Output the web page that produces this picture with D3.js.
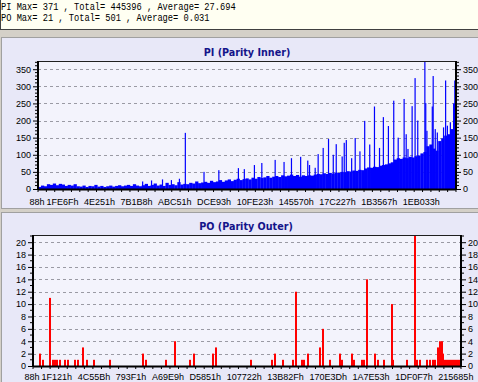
<!DOCTYPE html>
<html><head><meta charset="utf-8">
<script src="https://cdn.jsdelivr.net/npm/d3@7/dist/d3.min.js"></script>
<style>
html,body{margin:0;padding:0;background:#d4d0c8;overflow:hidden}
svg{display:block}
</style>
</head><body>
<svg id="chart" width="478" height="382"></svg>
<script>
// ---------- DATA ----------
const headerLines = [
  "PI Max= 371 , Total= 445396 , Average= 27.694",
  "PO Max= 21 , Total= 501 , Average= 0.031"
];
const piTitle = "PI (Parity Inner)";
const poTitle = "PO (Parity Outer)";

// PI background level, one value per bin across the disc
const piBase = [
  6,10,8,14,12,16,11,15,13,9,
  12,10,14,8,7,10,6,9,8,12,
  7,9,6,8,10,7,9,11,8,10,
  12,9,14,10,8,11,15,9,12,16,
  10,13,9,18,12,14,11,20,13,15,
  14,18,16,22,17,19,21,18,24,20,
  22,26,21,25,28,23,27,30,26,29,
  31,28,33,30,35,32,34,38,33,36,
  38,35,40,37,39,42,38,41,36,40,
  38,40,39,42,44,43,46,44,47,45,
  48,47,50,49,52,51,54,53,56,55,
  60,63,62,65,64,68,70,72,75,78,
  86,90,88,92,90,94,92,96,98,104,
  108,125,130,118,112,140,148,156,160,175,
  250
];
// PI spikes: position (in bins) and value
const piSpikePos = [35.3,38.3,42,45,47.7,49.7,56,61,67.6,69.6,73,75.5,80,83,85.5,
  88.6,91,94.5,96.2,98,100.6,103.3,104,107,110.2,113.5,116.5,118.2,120,123.5,124.8,126.2,127.2,130.5,130.8,133,133.3,134,136.8,137.5,140.2,140.6,
  91.6,93.5,99.6,102.6,105.8,108.6,111.9,115.2,121.5,124.2,128.1,131.2,134.7,138.1,139.1];
const piSpikeVal = [22,25,28,26,30,164,50,55,61,58,70,76,85,79,90,
  94,83,102,120,146,131,135,143,149,199,241,210,184,258,263,117,242,324,371,251,241,330,175,180,317,200,317,
  70,62,100,95,90,110,130,120,150,160,200,170,165,185,195];
const piTicks = [0,50,100,150,200,250,300,350];
const piMax = 371;
const piLabels = ["88h","1FE6Fh","4E251h","7B1B8h","ABC51h","DCE93h","10FE23h","145570h","17C227h","1B3567h","1EB033h"];

// PO error counts: position and value
const poPos = [7,10,17,20,22,24,27,32,35,42,45,50,54,61,77,110,113,133,142,157,
  161,180,183,218,239,242,250,260,263,269,271,275,287,290,297,307,309,319,321,329,
  331,334,342,345,351,359,360,374,382,384,387,394,397,400,402,405,407,409,410,412,
  414,416,418,420,422,424,426];
const poVal = [2,1,11,1,1,1,1,1,1,1,1,3,1,1,1,2,1,1,4,1,
  2,2,3,1,1,2,1,1,12,1,1,2,3,6,1,2,1,2,1,1,
  1,14,2,1,1,10,1,1,21,1,1,1,1,1,1,3,4,4,2,1,
  1,1,1,1,1,1,1];
const poLen = 428;
const poTicks = [0,2,4,6,8,10,12,14,16,18,20];
const poMax = 21;
const poLabels = ["88h","1F121h","4C55Bh","793F1h","A69E9h","D5851h","107722h","13B82Fh","170E3Dh","1A7E53h","1DF0F7h","215685h"];

// ---------- DRAW ----------
const svg = d3.select("#chart");
const W = 478, H = 382;
const AX_FONT = "'Liberation Sans', Arial, sans-serif";

// header box
svg.append("rect").attr("x",0).attr("y",0).attr("width",W).attr("height",30).attr("fill","#fffff2");
svg.append("line").attr("x1",0).attr("x2",W).attr("y1",29.5).attr("y2",29.5).attr("stroke","#404040");
svg.append("line").attr("x1",0.5).attr("x2",0.5).attr("y1",0).attr("y2",30).attr("stroke","#404040");
headerLines.forEach((t,i)=>{
  svg.append("g").attr("transform",`translate(1,${9.5+i*11.3}) scale(0.87,1)`)
    .append("text").text(t)
    .attr("font-family","'Liberation Mono','Courier New',monospace")
    .attr("font-size",10).attr("fill","#000").style("white-space","pre");
});

function panel(cfg){
  const g = svg.append("g");
  g.append("rect").attr("x",1.5).attr("y",cfg.py0+0.5).attr("width",W+5).attr("height",cfg.py1-cfg.py0)
    .attr("fill","#e8e8f8").attr("stroke","#a0a0a0");
  g.append("text").text(cfg.title).attr("x",cfg.titleX).attr("y",cfg.titleY)
    .attr("text-anchor","middle").attr("font-family","'DejaVu Sans',Verdana,sans-serif")
    .attr("font-weight","bold").attr("font-size",9.6).attr("fill","#14148a");

  const {L,R,T,B} = cfg;
  g.append("rect").attr("x",L).attr("y",T).attr("width",R-L).attr("height",B-T).attr("fill","#f3f3fc");

  const y = d3.scaleLinear().domain([0,cfg.max]).range([B,T]);
  const x = d3.scaleLinear().domain([0,cfg.len]).range([L,R]);

  // grid
  g.append("g").selectAll("line").data(cfg.ticks.filter(d=>d>0)).join("line")
    .attr("x1",L).attr("x2",R).attr("y1",d=>Math.round(y(d))+0.5).attr("y2",d=>Math.round(y(d))+0.5)
    .attr("stroke","#9a9aa4").attr("stroke-dasharray","3,3");

  cfg.drawMarks(g,x,y);

  // frame
  g.append("rect").attr("x",L+0.5).attr("y",T-0.5).attr("width",R-L-1).attr("height",B-T+1)
    .attr("fill","none").attr("stroke","#202020");
  g.append("line").attr("x1",L).attr("x2",L).attr("y1",T-1).attr("y2",B+1).attr("stroke","#000").attr("stroke-width",2);
  g.append("line").attr("x1",R).attr("x2",R).attr("y1",T-1).attr("y2",B+1).attr("stroke","#000").attr("stroke-width",2);
  g.append("line").attr("x1",L).attr("x2",R).attr("y1",B+0.5).attr("y2",B+0.5).attr("stroke","#000").attr("stroke-width",2);

  // left and right axes
  const axL = d3.axisLeft(y).tickValues(cfg.ticks).tickSize(4).tickPadding(2);
  const axR = d3.axisRight(y).tickValues(cfg.ticks).tickSize(4).tickPadding(2);
  const gl = g.append("g").attr("transform",`translate(${L-1},0)`).call(axL);
  const gr = g.append("g").attr("transform",`translate(${R+1},0)`).call(axR);
  [gl,gr].forEach(a=>{
    a.select(".domain").remove();
    a.selectAll("line").attr("stroke","#000");
    a.selectAll("text").attr("font-family",AX_FONT).attr("font-size",9).attr("fill","#000");
  });
  // minor ticks
  const minor = d3.range(0,cfg.max+0.001,cfg.minorStep).filter(v=>!cfg.ticks.includes(v));
  g.append("g").selectAll("line").data(minor).join("line")
    .attr("x1",L-3).attr("x2",L-1).attr("y1",d=>y(d)).attr("y2",d=>y(d)).attr("stroke","#000");
  g.append("g").selectAll("line").data(minor).join("line")
    .attr("x1",R+1).attr("x2",R+3).attr("y1",d=>y(d)).attr("y2",d=>y(d)).attr("stroke","#000");
  // bottom ticks
  const bt = d3.range(0,cfg.len+0.001,cfg.len/50);
  g.append("g").selectAll("line").data(bt).join("line")
    .attr("x1",d=>x(d)).attr("x2",d=>x(d)).attr("y1",B+1).attr("y2",B+3).attr("stroke","#000");

  // x labels, laid out left to right
  let cursor = 0;
  cfg.labels.forEach((t,i)=>{
    const el = g.append("text").text(t).attr("y",cfg.labelY)
      .attr("font-family",AX_FONT).attr("font-size",9).attr("fill","#000");
    const w = el.node().getComputedTextLength();
    let x0;
    if(i===0) x0 = L - w/2 - 1;
    else if(i===1) x0 = L + 8.5;
    else x0 = cursor + cfg.gap;
    el.attr("x",x0);
    cursor = x0 + w;
  });
}

// PI panel
panel({
  py0:37, py1:208, title:piTitle, titleX:247, titleY:55.5,
  L:38, R:456, T:62, B:189, max:piMax, len:piBase.length, ticks:piTicks, minorStep:10,
  labels:piLabels, labelY:204.5, gap:5.5,
  drawMarks:(g,x,y)=>{
    g.append("g").selectAll("rect").data(piBase).join("rect")
      .attr("x",(d,i)=>x(i)).attr("width",(d,i)=>x(i+1)-x(i)+0.3)
      .attr("y",d=>y(d)).attr("height",d=>y(0)-y(d)).attr("fill","#0000ff");
    g.append("g").selectAll("rect").data(piSpikePos).join("rect")
      .attr("x",d=>x(d)-0.6).attr("width",1.2)
      .attr("y",(d,i)=>y(piSpikeVal[i])).attr("height",(d,i)=>y(0)-y(piSpikeVal[i])).attr("fill","#0000ff");
  }
});

// PO panel
panel({
  py0:212, py1:390, title:poTitle, titleX:246, titleY:229.5,
  L:33, R:461, T:236, B:366, max:poMax, len:poLen, ticks:poTicks, minorStep:1,
  labels:poLabels, labelY:379.5, gap:5.6,
  drawMarks:(g,x,y)=>{
    g.append("g").selectAll("rect").data(poPos).join("rect")
      .attr("x",d=>x(d)-1).attr("width",2)
      .attr("y",(d,i)=>y(poVal[i])).attr("height",(d,i)=>y(0)-y(poVal[i])).attr("fill","#ff0000");
  }
});
</script>
</body></html>
